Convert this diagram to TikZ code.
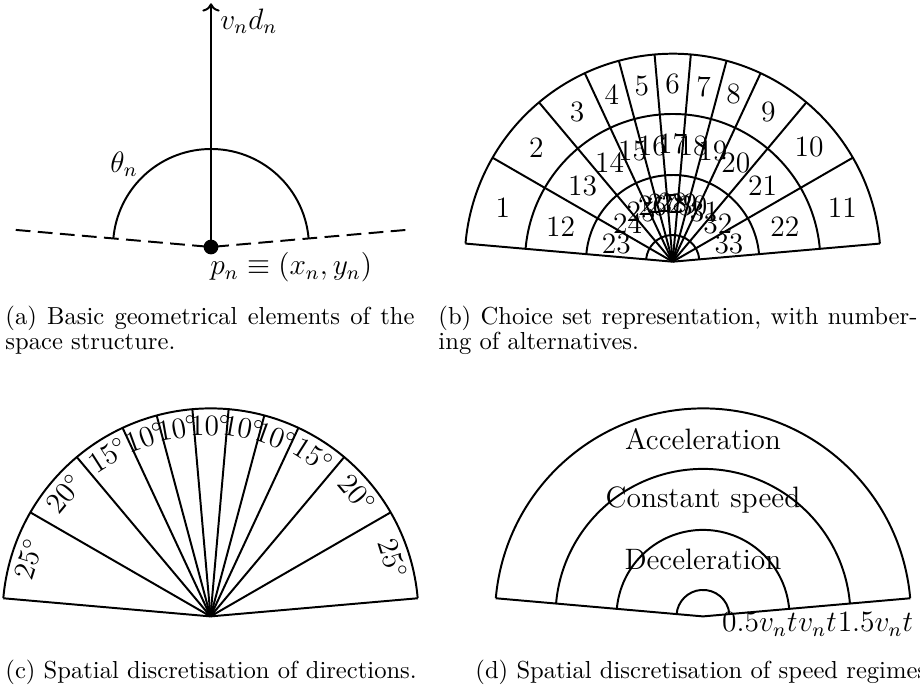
\documentclass[tikz,border=0pt]{standalone}
\usetikzlibrary{arrows.meta}
\begin{document}
\begin{tikzpicture}[x=0.4065pt,y=0.4065pt,
  ln/.style={line width=0.8pt},
  dsh/.style={line width=0.8pt, dash pattern=on 6pt off 3pt},
  lbl/.style={font=\fontsize{12}{14.4}\selectfont, inner sep=0pt},
  captxt/.style={font=\fontsize{10}{12}\selectfont, inner sep=0pt, anchor=base west},
  dotnode/.style={circle, fill=black, inner sep=0pt, minimum size=6pt}]
\useasboundingbox (0,0) rectangle (920,695);

% ---------- panel (a)
\node[dotnode] (Oa) at (211,448) {};
\coordinate (DL) at ([shift={(175:196)}]Oa.center);
\coordinate (DR) at ([shift={(5:196)}]Oa.center);
\draw[dsh] (DL) -- (Oa.center) -- (DR);
\draw[ln] ([shift={(5:98)}]Oa.center) arc[start angle=5,end angle=175,radius=98];
\coordinate (Ta) at (211,691.7);
\draw[ln,->] (Oa.center) -- (Ta);
\node[lbl,anchor=base west] (vd) at (220,665.6) {$v_nd_n$};
\node[lbl,anchor=base west] (th) at (110,522.5) {$\theta_n$};
\node[lbl,anchor=base west] (pn) at (210,420.3) {$p_n\equiv(x_n,y_n)$};

% ---------- panel (b)
\coordinate (Ob) at (672.7,433.3);
\foreach \r in {26.7,86.7,147.7,208}
  \draw[ln] ([shift={(5:\r)}]Ob) arc[start angle=5,end angle=175,radius=\r];
\foreach \a in {5,30,50,65,75,85,95,105,115,130,150,175}
  \draw[ln] (Ob) -- ([shift={(\a:208)}]Ob);
\foreach \m [count=\i] in {162.5,140,122.5,110,100,90,80,70,57.5,40,17.5}{
  \pgfmathtruncatemacro\j{\i+11}
  \pgfmathtruncatemacro\k{\i+22}
  \node[lbl] (bo\i) at ([shift={(\m:178)}]Ob) {\i};
  \node[lbl] (bm\i) at ([shift={(\m:117.5)}]Ob) {\j};
  \node[lbl] (bi\i) at ([shift={(\m:59)}]Ob) {\k};
}

% ---------- panel (c)
\coordinate (Oc) at (210.5,78.6);
\draw[ln] ([shift={(5:208)}]Oc) arc[start angle=5,end angle=175,radius=208];
\foreach \a in {5,30,50,65,75,85,95,105,115,130,150,175}
  \draw[ln] (Oc) -- ([shift={(\a:208)}]Oc);
\foreach \m/\t [count=\i] in {162.5/25,140/20,122.5/15,110/10,100/10,90/10,80/10,70/10,57.5/15,40/20,17.5/25}
  \node[lbl,rotate=\m-90] (c\i) at ([shift={(\m:191)}]Oc) {$\t^\circ$};

% ---------- panel (d)
\coordinate (Od) at (703,78.6);
\foreach \r in {26.5,86.5,147.5,208}
  \draw[ln] ([shift={(5:\r)}]Od) arc[start angle=5,end angle=175,radius=\r];
\draw[ln] ([shift={(175:208)}]Od) -- (Od) -- ([shift={(5:208)}]Od);
\node[lbl] (acc) at ([shift={(90:177)}]Od) {Acceleration};
\node[lbl] (con) at ([shift={(90:116)}]Od) {Constant speed};
\node[lbl] (dec) at ([shift={(90:57)}]Od) {Deceleration};
\node[lbl,anchor=base west] (s1) at (721.7,63.3) {$0.5v_nt$};
\node[lbl,anchor=base west] (s2) at (s1.base east) {$v_nt$};
\node[lbl,anchor=base west] (s3) at (s2.base east) {$1.5v_nt$};

% ---------- captions
\node[captxt] (ca1) at (5,370) {\makebox[166.3pt][s]{(a) Basic geometrical elements of the}};
\node[captxt] (ca2) at (5,345) {space structure.};
\node[captxt] (cb1) at (438,370) {\makebox[194.7pt][s]{(b) Choice set representation, with number-}};
\node[captxt] (cb2) at (438,345) {ing of alternatives.};
\node[captxt] (cc) at (5,16.2) {(c) Spatial discretisation of directions.};
\node[captxt] (cd) at (475,16.2) {(d) Spatial discretisation of speed regimes.};
\end{tikzpicture}
\end{document}
